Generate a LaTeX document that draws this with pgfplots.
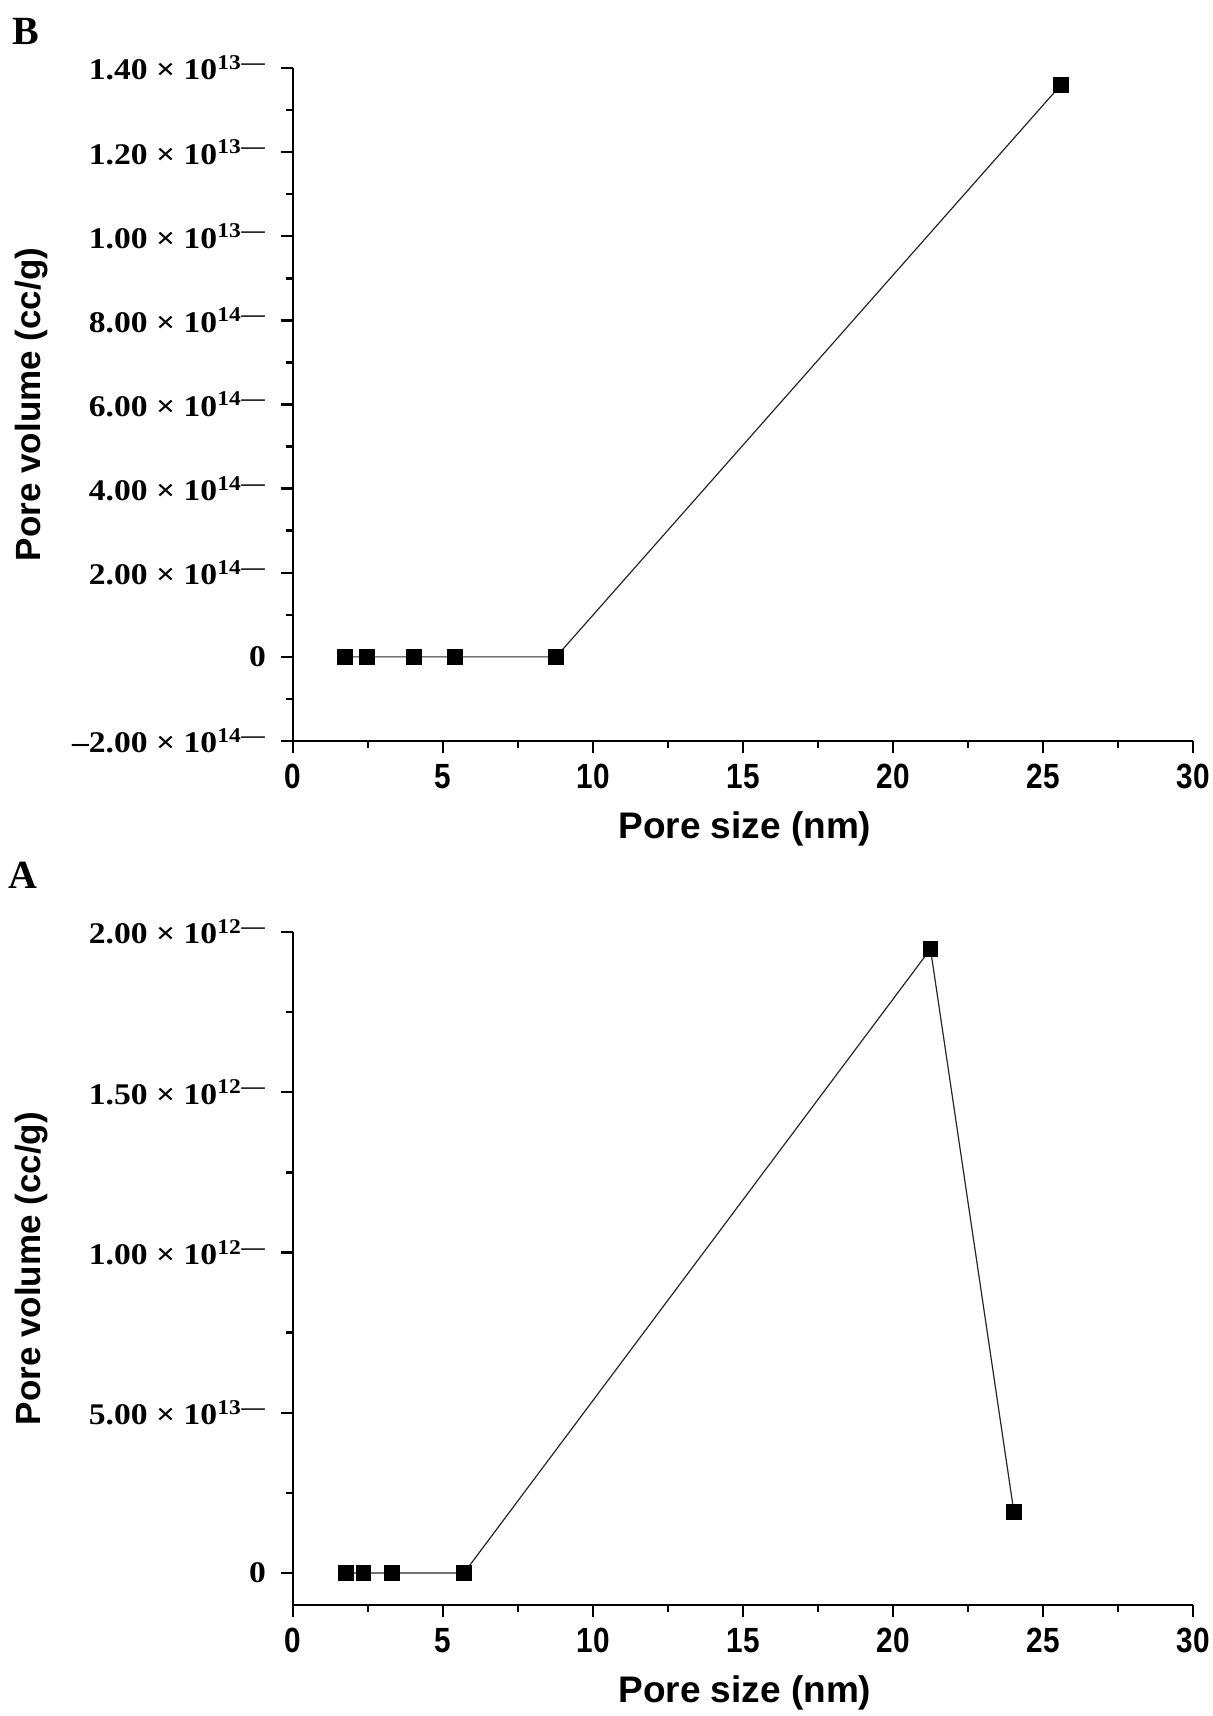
\documentclass[border=0pt]{standalone}
\usepackage{fontspec}
\setmainfont{Liberation Serif}
\newfontfamily\labfont{Liberation Sans}
\newfontfamily\xtfont[FakeStretch=0.85]{Liberation Sans}
\newfontfamily\ytfont[FakeStretch=1.12]{Liberation Serif}
\usepackage{pgfplots}
\pgfplotsset{compat=1.18}

% label with the misplaced exponent minus, as in the original
\newcommand{\ylab}[2]{#1 × 10\textsuperscript{#2\kern0.3pt—}}

\pgfplotsset{
  poreaxis/.style={
    scale only axis,
    width=450pt, height=336.5pt,
    axis x line*=bottom, axis y line*=left,
    axis line style={line width=1.3pt, -},
    xmin=0, xmax=30,
    xtick={0,5,...,30},
    xticklabels={0,5,10,15,20,25,30},
    minor x tick num=1,
    tick align=outside,
    major tick length=6pt, minor tick length=3.5pt,
    every tick/.style={line width=1.2pt, black},
    xticklabel style={font=\xtfont\bfseries\fontsize{17.5}{17.5}\selectfont, anchor=north, yshift=-2pt},
    yticklabel style={font=\ytfont\bfseries\fontsize{15}{15}\selectfont, anchor=east, xshift=-4pt},
    xlabel={Pore size (nm)},
    ylabel={Pore volume (cc/g)},
    xlabel style={font=\labfont\bfseries\fontsize{18.5}{19}\selectfont, at={(axis description cs:0.502,-0.131)}, anchor=center},
    ylabel style={font=\labfont\bfseries\fontsize{17.5}{18}\selectfont, at={(axis description cs:-0.291,0.5)}, anchor=center, rotate=0},
    clip=false,
  },
  poreline/.style={black!85, line width=0.6pt, mark=square*, mark size=3.6pt,
    mark options={solid, fill=black, draw=black}},
}

\begin{document}
\begin{tikzpicture}
\useasboundingbox (0,0) rectangle (606.5pt,-858pt);

% panel B, pore volume in units of 1e-14
\begin{axis}[poreaxis,
  at={(146.5pt,-370.5pt)}, anchor=south west,
  ymin=-2, ymax=14,
  ytick={-2,0,2,4,6,8,10,12,14},
  minor y tick num=1,
  yticklabels={\ylab{–2.00}{14},0,\ylab{2.00}{14},\ylab{4.00}{14},\ylab{6.00}{14},\ylab{8.00}{14},\ylab{1.00}{13},\ylab{1.20}{13},\ylab{1.40}{13}},
]
\addplot[poreline] coordinates {
  (1.73,0) (2.47,0) (4.03,0) (5.40,0) (8.77,0) (25.6,13.6)
};
\end{axis}

% panel A, pore volume in units of 1e-13
\begin{axis}[poreaxis,
  at={(146.5pt,-802.5pt)}, anchor=south west,
  ymin=-1, ymax=20,
  ytick={0,5,10,15,20},
  minor y tick num=1,
  yticklabels={0,\ylab{5.00}{13},\ylab{1.00}{12},\ylab{1.50}{12},\ylab{2.00}{12}},
]
\addplot[poreline] coordinates {
  (1.77,0) (2.35,0) (3.30,0) (5.70,0) (21.25,19.47) (24.03,1.9)
};
\end{axis}

\node[font=\bfseries\fontsize{20}{20}\selectfont] at (13pt,-15.5pt) {B};
\node[font=\bfseries\fontsize{20}{20}\selectfont] at (11.5pt,-437.5pt) {A};
\end{tikzpicture}
\end{document}
